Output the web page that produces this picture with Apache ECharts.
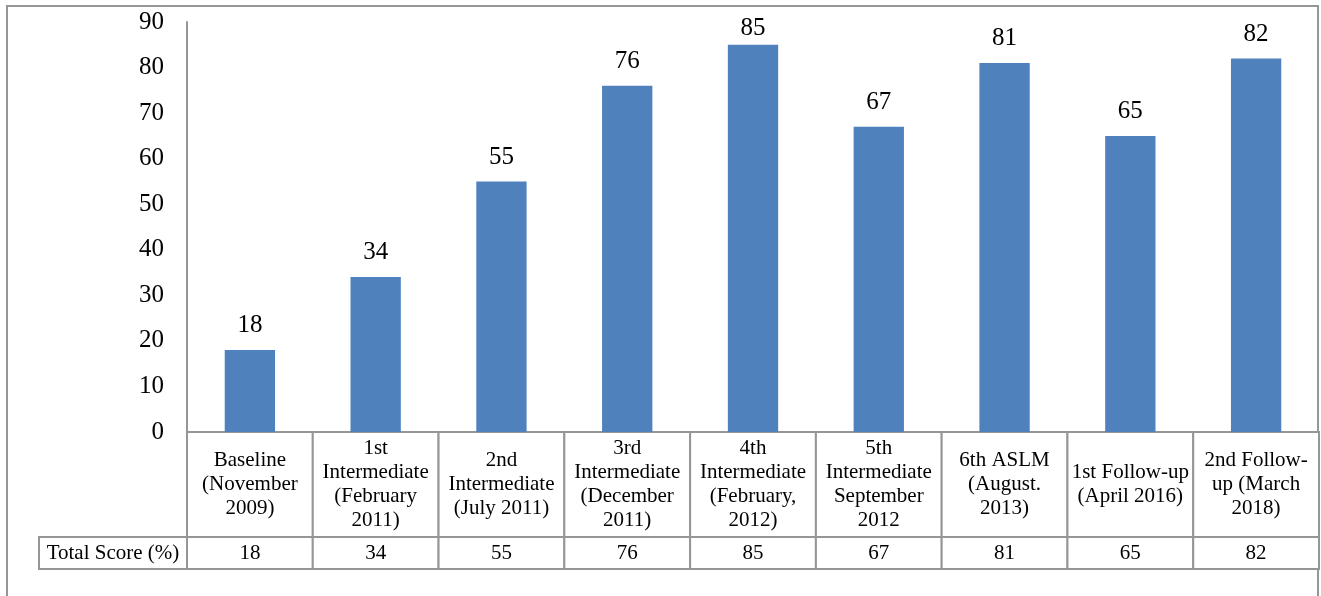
<!DOCTYPE html>
<html>
<head>
<meta charset="utf-8">
<script src="https://cdn.jsdelivr.net/npm/echarts@6/dist/echarts.min.js"></script>
<style>
  html, body { margin: 0; padding: 0; background: #fff; }
  #chart { width: 1321px; height: 596px; }
</style>
</head>
<body>
<div id="chart"></div>
<script>
// 数据
const categories = [
  "Baseline\n(November\n2009)",
  "1st\nIntermediate\n(February\n2011)",
  "2nd\nIntermediate\n(July 2011)",
  "3rd\nIntermediate\n(December\n2011)",
  "4th\nIntermediate\n(February,\n2012)",
  "5th\nIntermediate\nSeptember\n2012",
  "6th ASLM\n(August.\n2013)",
  "1st Follow-up\n(April 2016)",
  "2nd Follow-\nup (March\n2018)"
]
const scores = [18, 34, 55, 76, 85, 67, 81, 65, 82]
const rowTitle = "Total Score (%)"
const yTicks = { min: 0, max: 90, interval: 10 }

const FONT = "Liberation Serif, Times New Roman, serif"
const LINE = "#969696"

const myChart = echarts.init(document.getElementById("chart"))

// 表格部分
const renderCell = (params, api) => {
  const i = params.dataIndex
  const cs = params.coordSys
  const bw = api.size([1, 0])[0]
  const cx = api.coord([i, 0])[0]
  const valueH = 32
  const catH = cs.height - valueH
  const children = [
    { type: "rect", shape: { x: cx - bw / 2, y: cs.y, width: bw, height: catH },
      style: { fill: "#fff", stroke: LINE, lineWidth: 2 } },
    { type: "rect", shape: { x: cx - bw / 2, y: cs.y + catH, width: bw, height: valueH },
      style: { fill: "#fff", stroke: LINE, lineWidth: 2 } },
    { type: "text", style: { text: categories[i], x: cx, y: cs.y + catH / 2, align: "center",
      verticalAlign: "middle", fill: "#000", fontSize: 21, fontFamily: FONT, lineHeight: 24 } },
    { type: "text", style: { text: String(scores[i]), x: cx, y: cs.y + catH + valueH / 2, align: "center",
      verticalAlign: "middle", fill: "#000", fontSize: 21, fontFamily: FONT } }
  ]
  if (i === 0) {
    children.push(
      { type: "rect", shape: { x: cs.x - 148, y: cs.y + catH, width: 148, height: valueH },
        style: { fill: "#fff", stroke: LINE, lineWidth: 2 } },
      { type: "text", style: { text: rowTitle, x: cs.x - 74, y: cs.y + catH + valueH / 2, align: "center",
        verticalAlign: "middle", fill: "#000", fontSize: 21, fontFamily: FONT } }
    )
  }
  return { type: "group", children }
}

// 最高的柱子标签贴近边框，像原图一样压低一点
const maxScore = Math.max(...scores)
const barData = scores.map((v) => (v === maxScore ? { value: v, label: { distance: 4 } } : v))

const option = {
  animation: false,
  backgroundColor: "#fff",
  graphic: [
    { type: "rect", shape: { x: 7, y: 6, width: 1311, height: 610 },
      style: { fill: "none", stroke: LINE, lineWidth: 2 }, silent: true, z: -1 }
  ],
  grid: [
    { left: 187, right: 2, top: 22, bottom: 164, outerBoundsMode: "none" },
    { left: 187, right: 2, top: 432, height: 137, outerBoundsMode: "none" }
  ],
  xAxis: [
    {
      type: "category",
      data: categories,
      axisLine: { lineStyle: { color: LINE, width: 2 } },
      axisTick: { show: false },
      axisLabel: { show: false },
      splitLine: { show: false }
    },
    { type: "category", gridIndex: 1, data: categories, show: false }
  ],
  yAxis: [
    {
      type: "value",
      min: yTicks.min,
      max: yTicks.max,
      interval: yTicks.interval,
      axisLine: { show: true, lineStyle: { color: LINE, width: 2 } },
      axisTick: { show: false },
      splitLine: { show: false },
      axisLabel: { color: "#000", fontSize: 25, fontFamily: FONT, margin: 23 }
    },
    { type: "value", gridIndex: 1, min: 0, max: 1, show: false }
  ],
  series: [
    {
      type: "bar",
      data: barData,
      barWidth: "40%",
      itemStyle: { color: "#4F81BD" },
      label: { show: true, position: "top", distance: 12, color: "#000", fontSize: 25, fontFamily: FONT }
    },
    {
      type: "custom",
      xAxisIndex: 1,
      yAxisIndex: 1,
      data: scores.map((v, i) => [i, 0]),
      renderItem: renderCell,
      silent: true
    }
  ]
}

myChart.setOption(option)
</script>
</body>
</html>
